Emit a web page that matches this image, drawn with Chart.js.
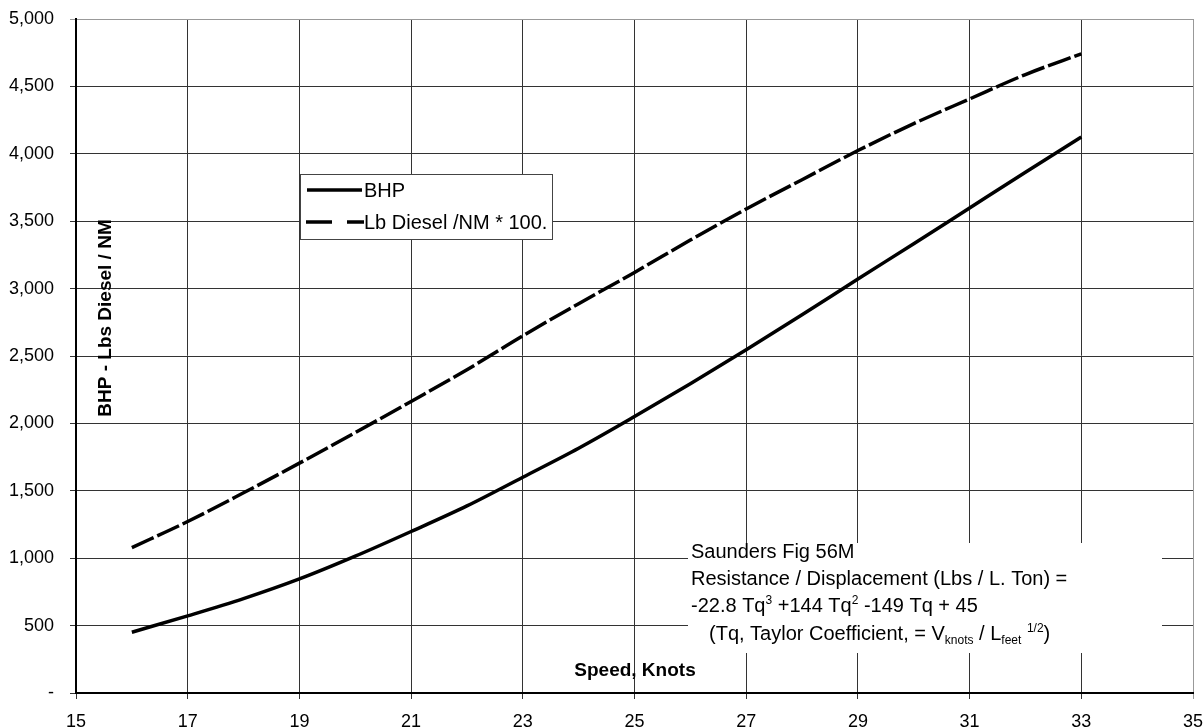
<!DOCTYPE html>
<html>
<head>
<meta charset="utf-8">
<script src="https://cdn.jsdelivr.net/npm/chart.js@4.4.0/dist/chart.umd.min.js"></script>
<style>
  html, body { margin: 0; padding: 0; background: #fff; }
  #wrap { width: 1204px; height: 727px; }
</style>
</head>
<body>
<div id="wrap"><canvas id="speedChart" width="1204" height="727"></canvas></div>
<script>
// speed in knots
const speeds = [16, 17, 18, 19, 20, 21, 22, 23, 24, 25, 26, 27, 28, 29, 30, 31, 32, 33];
// brake horsepower
const bhp = [451, 572, 700, 846, 1015, 1198, 1388, 1601, 1816, 2051, 2295, 2546, 2806, 3071, 3333, 3598, 3863, 4125];
// lb diesel per nautical mile * 100
const dieselPerNm = [1079, 1272, 1485, 1705, 1932, 2163, 2398, 2650, 2888, 3120, 3360, 3591, 3808, 4024, 4224, 4407, 4588, 4742];

const seriesNames = ['BHP', 'Lb Diesel /NM * 100.'];
const xTitle = 'Speed, Knots';
const yTitle = 'BHP - Lbs Diesel / NM';

const FONT = '"Liberation Sans", Arial, sans-serif';

function toPoints(xs, ys) {
    return xs.map((x, i) => ({ x: x, y: ys[i] }));
}

// text pieces: [text, 'n' | 'sup' | 'sub']
function drawRich(c, x, y, parts, size) {
    let cx = x;
    parts.forEach(([txt, kind]) => {
        let fs = size, dy = 0;
        if (kind === 'sup') { fs = Math.round(size * 0.62); dy = -size * 0.42; }
        if (kind === 'sub') { fs = Math.round(size * 0.62); dy = size * 0.2; }
        c.font = fs + 'px ' + FONT;
        c.fillText(txt, cx, y + dy);
        cx += c.measureText(txt).width;
    });
}

const overlays = {
    id: 'overlays',
    afterDraw(chart) {
        const c = chart.ctx;
        c.save();

        // axis titles sit inside the plot
        c.fillStyle = '#000';
        c.font = 'bold 19px ' + FONT;
        c.textBaseline = 'middle';
        c.textAlign = 'center';
        c.fillText(xTitle, 635, 671);
        c.save();
        c.translate(106, 318);
        c.rotate(-Math.PI / 2);
        c.fillText(yTitle, 0, 0);
        c.restore();

        // legend box
        c.fillStyle = '#fff';
        c.fillRect(300, 174, 252, 65);
        c.strokeStyle = '#444';
        c.lineWidth = 1;
        c.strokeRect(300.5, 174.5, 252, 65);
        c.strokeStyle = '#000';
        c.lineWidth = 3.5;
        c.beginPath();
        c.moveTo(307, 190);
        c.lineTo(362, 190);
        c.stroke();
        c.setLineDash([26, 15]);
        c.beginPath();
        c.moveTo(306, 222);
        c.lineTo(364, 222);
        c.stroke();
        c.setLineDash([]);
        c.fillStyle = '#000';
        c.font = '20px ' + FONT;
        c.textAlign = 'left';
        c.fillText(seriesNames[0], 364, 191);
        c.fillText(seriesNames[1], 364, 223);

        // formula note
        c.fillStyle = '#fff';
        c.fillRect(688, 543, 474, 110);
        c.fillStyle = '#000';
        c.textBaseline = 'alphabetic';
        const fs = 20;
        drawRich(c, 691, 558, [['Saunders Fig 56M', 'n']], fs);
        drawRich(c, 691, 585, [['Resistance / Displacement (Lbs / L. Ton) =', 'n']], fs);
        drawRich(c, 691, 612, [['-22.8 Tq', 'n'], ['3', 'sup'], [' +144 Tq', 'n'], ['2', 'sup'], [' -149 Tq + 45', 'n']], fs);
        drawRich(c, 709, 640, [['(Tq, Taylor Coefficient, = V', 'n'], ['knots', 'sub'], [' / L', 'n'], ['feet', 'sub'], [' ', 'n'], ['1/2', 'sup'], [')', 'n']], fs);

        c.restore();
    }
};

const ctx = document.getElementById('speedChart').getContext('2d');

new Chart(ctx, {
    type: 'line',
    data: {
        datasets: [{
            label: seriesNames[0],
            data: toPoints(speeds, bhp),
            borderColor: '#000',
            borderWidth: 3.5,
            pointRadius: 0,
            cubicInterpolationMode: 'monotone',
            fill: false
        }, {
            label: seriesNames[1],
            data: toPoints(speeds, dieselPerNm),
            borderColor: '#000',
            borderWidth: 3.5,
            borderDash: [24, 4],
            pointRadius: 0,
            cubicInterpolationMode: 'monotone',
            fill: false
        }]
    },
    options: {
        responsive: false,
        animation: false,
        layout: { padding: { top: 19, right: 11, left: 0, bottom: 0 } },
        plugins: {
            legend: { display: false },
            tooltip: { enabled: false }
        },
        scales: {
            x: {
                type: 'linear',
                min: 15,
                max: 35,
                afterFit(scale) {
                    scale.height = 34;
                    scale.paddingLeft = 0;
                    scale.paddingRight = 0;
                },
                ticks: {
                    stepSize: 2,
                    color: '#000',
                    padding: 12,
                    maxRotation: 0,
                    font: { family: FONT, size: 18 }
                },
                grid: {
                    color: (c) => (c.tick && c.tick.value === 35 ? '#999' : '#333'),
                    lineWidth: 1,
                    tickLength: 6
                },
                border: { display: true, color: '#000', width: 2 }
            },
            y: {
                min: 0,
                max: 5000,
                afterFit(scale) {
                    scale.width = 76;
                    scale.paddingTop = 0;
                    scale.paddingBottom = 0;
                },
                ticks: {
                    stepSize: 500,
                    color: '#000',
                    padding: 16,
                    font: { family: FONT, size: 18 },
                    callback: (v) => (v === 0 ? '-' : v.toLocaleString('en-US'))
                },
                grid: {
                    color: (c) => (c.tick && c.tick.value === 5000 ? '#999' : '#333'),
                    lineWidth: 1,
                    tickLength: 6
                },
                border: { display: true, color: '#000', width: 2 }
            }
        }
    },
    plugins: [overlays]
});
</script>
</body>
</html>
